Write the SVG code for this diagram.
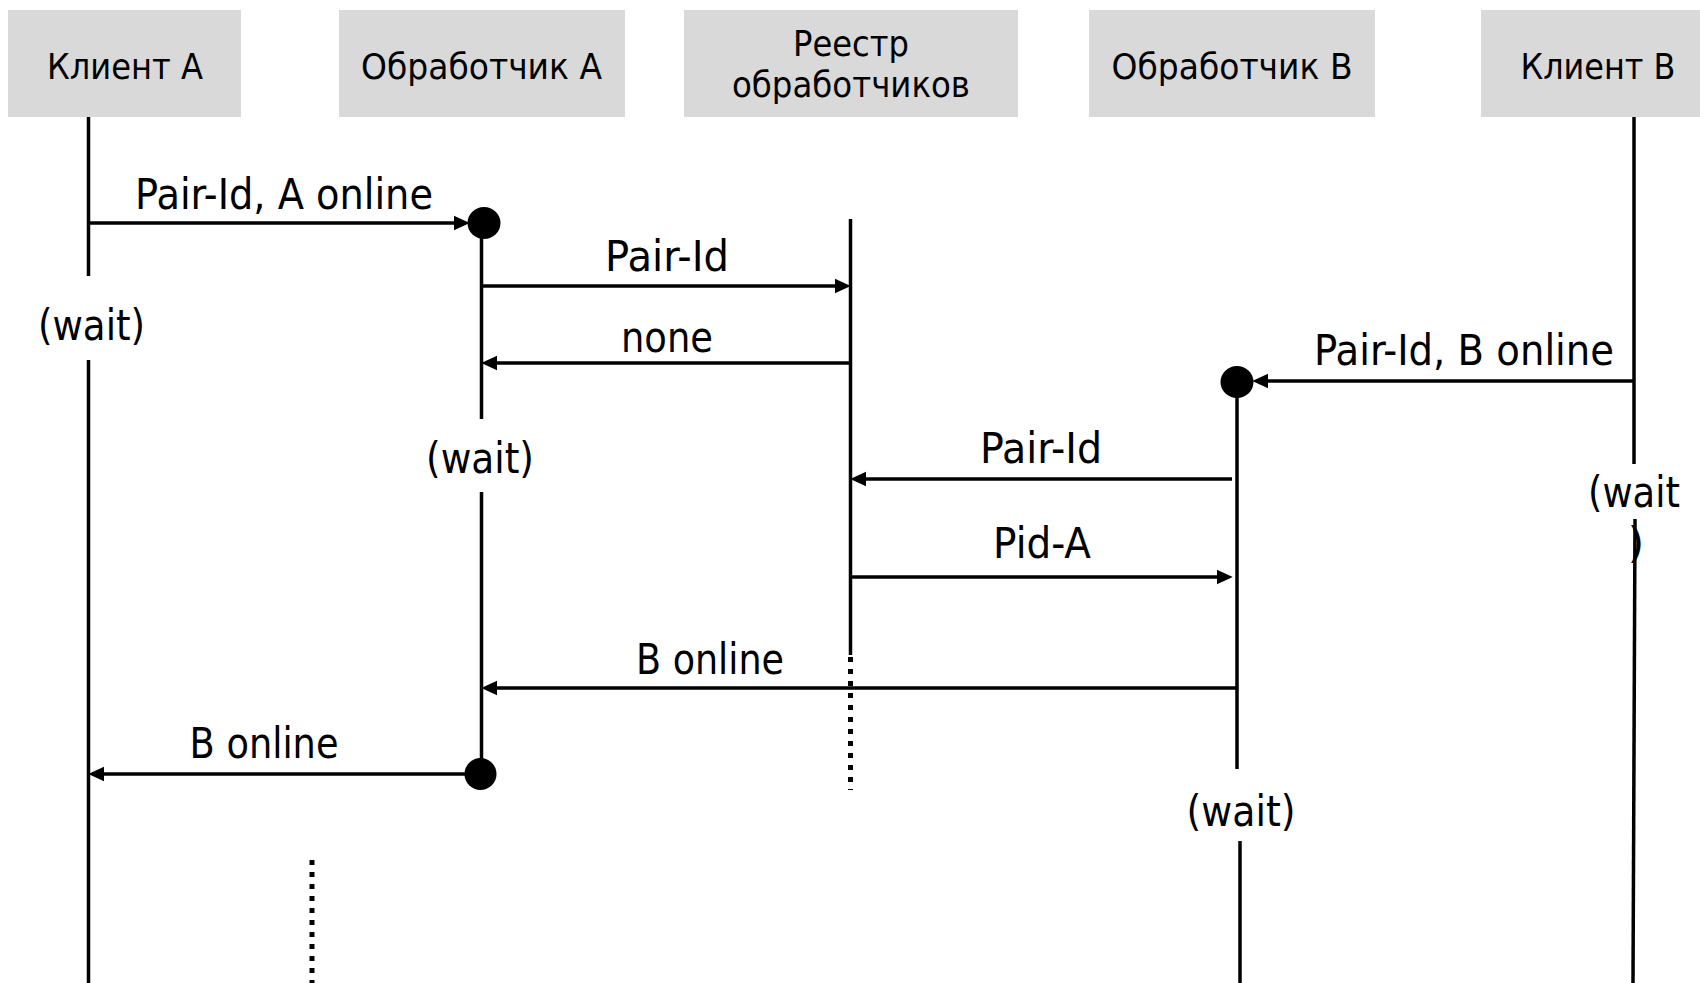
<svg xmlns="http://www.w3.org/2000/svg" width="1700" height="983" viewBox="0 0 1700 983">
<style>
.box{fill:#d9d9d9;stroke:none}
.hdr{font-family:"DejaVu Sans","Liberation Sans",sans-serif;font-size:36px;fill:#000;text-anchor:middle;lengthAdjust:spacingAndGlyphs}
.lbl{font-family:"DejaVu Sans","Liberation Sans",sans-serif;font-size:42px;fill:#000;text-anchor:middle}
.life{stroke:#000;stroke-width:3.5;fill:none}
.dots{stroke:#000;stroke-width:5;stroke-dasharray:5 7;fill:none}
.msg{stroke:#000;stroke-width:3.5;fill:none;marker-end:url(#arr)}
.dot{fill:#000}
</style>
<defs>
<marker id="arr" markerUnits="userSpaceOnUse" markerWidth="16" markerHeight="16" refX="4" refY="7" orient="auto" viewBox="0 0 15 14">
<path d="M0,0 L15,7 L0,14 z" fill="#000"/>
</marker>
</defs>
<rect width="1700" height="983" fill="#fff"/>

<g id="client-a">
<rect class="box" x="8" y="10" width="233" height="107"/>
<text class="hdr" x="125" y="79" textLength="156" lengthAdjust="spacingAndGlyphs">Клиент A</text>
<line class="life" x1="88.5" y1="117" x2="88.5" y2="276"/>
<text class="lbl" x="91.5" y="340" textLength="107" lengthAdjust="spacingAndGlyphs">(wait)</text>
<line class="life" x1="88.5" y1="360" x2="88.5" y2="983"/>
<line class="dots" x1="312" y1="860" x2="312" y2="983"/>
</g>

<g id="handler-a">
<rect class="box" x="339" y="10" width="286" height="107"/>
<text class="hdr" x="481.5" y="79" textLength="241" lengthAdjust="spacingAndGlyphs">Обработчик A</text>
<line class="life" x1="481.5" y1="223" x2="481.5" y2="419"/>
<text class="lbl" x="480" y="473" textLength="108" lengthAdjust="spacingAndGlyphs">(wait)</text>
<line class="life" x1="481.5" y1="492" x2="481.5" y2="774"/>
<ellipse class="dot" cx="484" cy="223" rx="16.5" ry="16"/>
<ellipse class="dot" cx="480.5" cy="774" rx="16" ry="16"/>
</g>

<g id="registry">
<rect class="box" x="684" y="10" width="334" height="107"/>
<text class="hdr" x="851" y="56" textLength="116" lengthAdjust="spacingAndGlyphs">Реестр</text>
<text class="hdr" x="851" y="97" textLength="238" lengthAdjust="spacingAndGlyphs">обработчиков</text>
<line class="life" x1="850.5" y1="219" x2="850.5" y2="655"/>
<line class="dots" x1="850.5" y1="657" x2="850.5" y2="790"/>
</g>

<g id="handler-b">
<rect class="box" x="1089" y="10" width="286" height="107"/>
<text class="hdr" x="1232" y="79" textLength="241" lengthAdjust="spacingAndGlyphs">Обработчик B</text>
<line class="life" x1="1237" y1="382" x2="1237" y2="769"/>
<text class="lbl" x="1241" y="826" textLength="109" lengthAdjust="spacingAndGlyphs">(wait)</text>
<line class="life" x1="1240" y1="841" x2="1240" y2="983"/>
<ellipse class="dot" cx="1237" cy="382" rx="16.5" ry="16"/>
</g>

<g id="client-b">
<rect class="box" x="1481" y="10" width="219" height="107"/>
<text class="hdr" x="1598" y="79" textLength="155" lengthAdjust="spacingAndGlyphs">Клиент B</text>
<line class="life" x1="1634" y1="117" x2="1634" y2="464"/>
<text class="lbl" x="1634" y="507" textLength="92" lengthAdjust="spacingAndGlyphs">(wait</text>
<text class="lbl" x="1636" y="558">)</text>
<line class="life" x1="1635" y1="519" x2="1633" y2="983"/>
</g>

<g id="connectors">
<line class="msg" x1="88.5" y1="223" x2="458" y2="223"/>
<text class="lbl" x="284" y="209" textLength="298" lengthAdjust="spacingAndGlyphs">Pair-Id, A online</text>

<line class="msg" x1="481.5" y1="286" x2="839" y2="286"/>
<text class="lbl" x="667" y="271" textLength="124" lengthAdjust="spacingAndGlyphs">Pair-Id</text>

<line class="msg" x1="850.5" y1="363" x2="493" y2="363"/>
<text class="lbl" x="667" y="352" textLength="92" lengthAdjust="spacingAndGlyphs">none</text>

<line class="msg" x1="1634" y1="381" x2="1264" y2="381"/>
<text class="lbl" x="1464" y="365" textLength="300" lengthAdjust="spacingAndGlyphs">Pair-Id, B online</text>

<line class="msg" x1="1232" y1="479" x2="862" y2="479"/>
<text class="lbl" x="1041" y="463" textLength="122" lengthAdjust="spacingAndGlyphs">Pair-Id</text>

<line class="msg" x1="850.5" y1="577" x2="1221" y2="577"/>
<text class="lbl" x="1042" y="558" textLength="98" lengthAdjust="spacingAndGlyphs">Pid-A</text>

<line class="msg" x1="1237" y1="688" x2="493" y2="688"/>
<text class="lbl" x="710" y="674" textLength="148" lengthAdjust="spacingAndGlyphs">B online</text>

<line class="msg" x1="480" y1="774" x2="100" y2="774"/>
<text class="lbl" x="264" y="758" textLength="149" lengthAdjust="spacingAndGlyphs">B online</text>
</g>
</svg>
